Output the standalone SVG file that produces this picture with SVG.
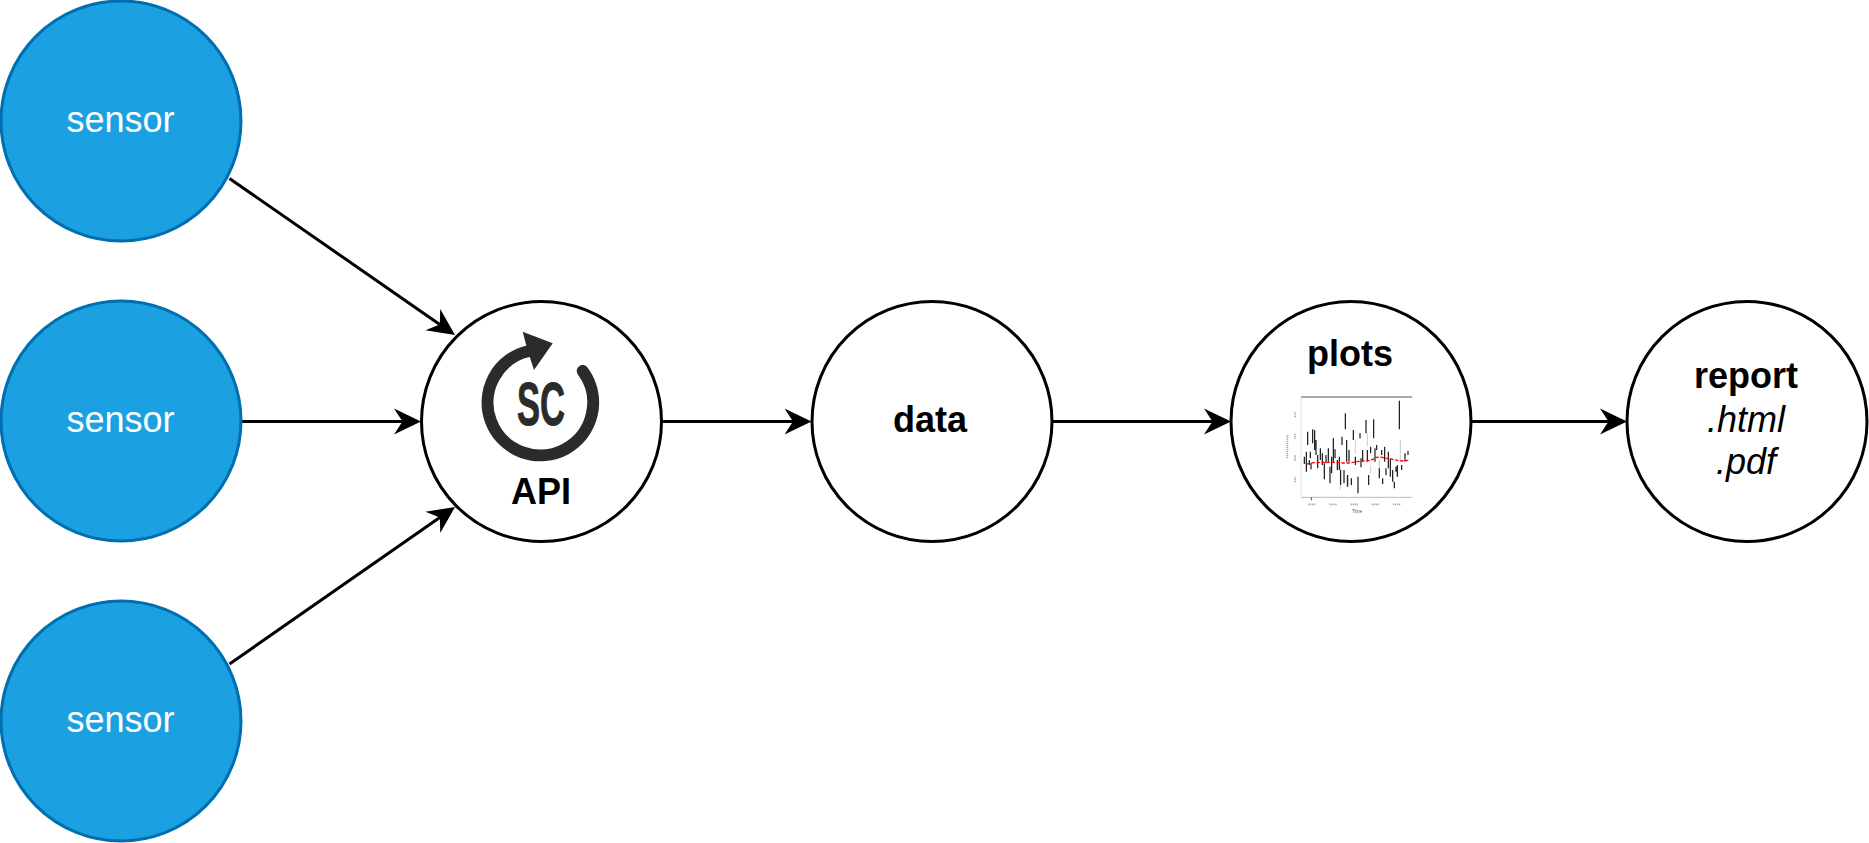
<svg xmlns="http://www.w3.org/2000/svg" width="1869" height="843" viewBox="0 0 1869 843">
<style>
text{font-family:"Liberation Sans",Arial,sans-serif;font-size:36px;text-anchor:middle;fill:#000}
.sensor circle{fill:#1ba1e2;stroke:#006eaf;stroke-width:3}
.sensor text{fill:#fff}
.node circle{fill:#fff;stroke:#000;stroke-width:3}
.b{font-weight:bold}
.i{font-style:italic}
#connectors line{stroke:#000;stroke-width:3;fill:none;marker-end:url(#arrow)}
</style>
<defs>
<marker id="arrow" markerUnits="userSpaceOnUse" markerWidth="28" markerHeight="28" refX="15" refY="13.5" orient="auto">
<path d="M0 .5L27 13.5L0 26.500L8.500 13.500Z" fill="#000"/>
</marker>
</defs>
<rect width="1869" height="843" fill="#fff"/>
<g id="connectors">
<line x1="229.500" y1="178.500" x2="445.140" y2="328.160"/>
<line x1="242" y1="421.500" x2="409" y2="421.500"/>
<line x1="229.500" y1="664" x2="445.150" y2="513.850"/>
<line x1="662" y1="421.500" x2="799.500" y2="421.500"/>
<line x1="1052" y1="421.500" x2="1219" y2="421.500"/>
<line x1="1471" y1="421.500" x2="1615" y2="421.500"/>
</g>
<g id="sensor1" class="sensor"><circle cx="121" cy="121" r="120"/><text x="120.500" y="131.500">sensor</text></g>
<g id="sensor2" class="sensor"><circle cx="121" cy="421" r="120"/><text x="120.500" y="431.500">sensor</text></g>
<g id="sensor3" class="sensor"><circle cx="121" cy="721" r="120"/><text x="120.500" y="731.500">sensor</text></g>
<g id="api" class="node">
<circle cx="541.500" cy="421.500" r="120"/>
<g id="api-icon">
<path d="M582.700 371A52.800 52.800 0 1 1 529 351" fill="none" stroke="#2b2b2b" stroke-width="12" stroke-linecap="round"/>
<path d="M522.700 331.700L552.700 343.300L534 370L527.500 350Z" fill="#2b2b2b"/>
<text x="541" y="424.500" style="font-family:'Liberation Sans Narrow','Liberation Sans',sans-serif;font-size:62px;fill:#2b2b2b;stroke:#2b2b2b;stroke-width:1" class="b" textLength="48" lengthAdjust="spacingAndGlyphs">SC</text>
</g>
<text x="541" y="504" class="b">API</text>
</g>
<g id="data" class="node"><circle cx="932" cy="421.500" r="120"/><text x="930" y="431.500" class="b">data</text></g>
<g id="plots" class="node">
<circle cx="1351" cy="421.500" r="120"/>
<text x="1350" y="366" class="b">plots</text>
<g id="plot-chart" transform="translate(1280 390) scale(.33333)">
<path d="M63 21H397" stroke="#333" stroke-width="2.500" fill="none"/>
<path d="M63 322H397" stroke="#bbb" stroke-width="3" fill="none"/>
<path d="M63 21V322" stroke="#e4e4e4" stroke-width="3" fill="none"/>
<path d="M94 322V331" stroke="#555" stroke-width="3" fill="none"/>
<path d="M181 230V300M200 260V290M262 130V170M298 210V235M361 150V210M272 225V250M226 150V190" stroke="#ccc" stroke-width="3" fill="none"/>
<path d="M73 200V222M79 185V245M83 125V165M88 210V225M93 218V238M91 185V205M98 118V160M104 120V180M108 150V195M113 195V235M121 175V210M127 190V225M133 220V268M138 195V220M145 175V215M150 230V280M155 200V250M160 145V215M165 178V205M172 210V240M178 200V240M182 240V285M186 140V165M192 240V280M196 70V118M200 150V215M207 180V215M203 255V290M214 265V285M220 120V150M226 200V225M234 260V310M240 130V145M243 205V232M248 180V215M258 90V130M262 180V215M266 255V285M272 170V190M281 88V145M285 175V215M290 165V180M298 235V265M305 180V195M308 265V282M314 170V215M318 235V255M325 185V235M331 205V260M338 240V275M343 275V295M348 230V245M352 225V260M358 32V118M365 225V240M375 190V215M384 183V195" stroke="#111" stroke-width="3.500" fill="none"/>
<path d="M80 222L100 218L120 217L150 217L175 217L190 219L210 219L230 215L250 213L270 212L290 202L300 201L320 205L340 208L360 213L385 211" stroke="#f00" stroke-width="4" stroke-dasharray="10 5" fill="none"/>
<path d="M84 343H106M148 343H170M212 343H234M275 343H297M339 343H361M45 66V84M45 131V149M45 196V214M45 261V279M22 135V205" stroke="#aaa" stroke-width="5" stroke-dasharray="4 2" fill="none"/>
<text x="231" y="370" style="font-size:14px;fill:#555">Time</text>
</g>
</g>
<g id="report" class="node">
<circle cx="1747" cy="421.500" r="120"/>
<text x="1746" y="388" class="b">report</text>
<text x="1746" y="432" class="i">.html</text>
<text x="1746" y="474" class="i">.pdf</text>
</g>
</svg>
